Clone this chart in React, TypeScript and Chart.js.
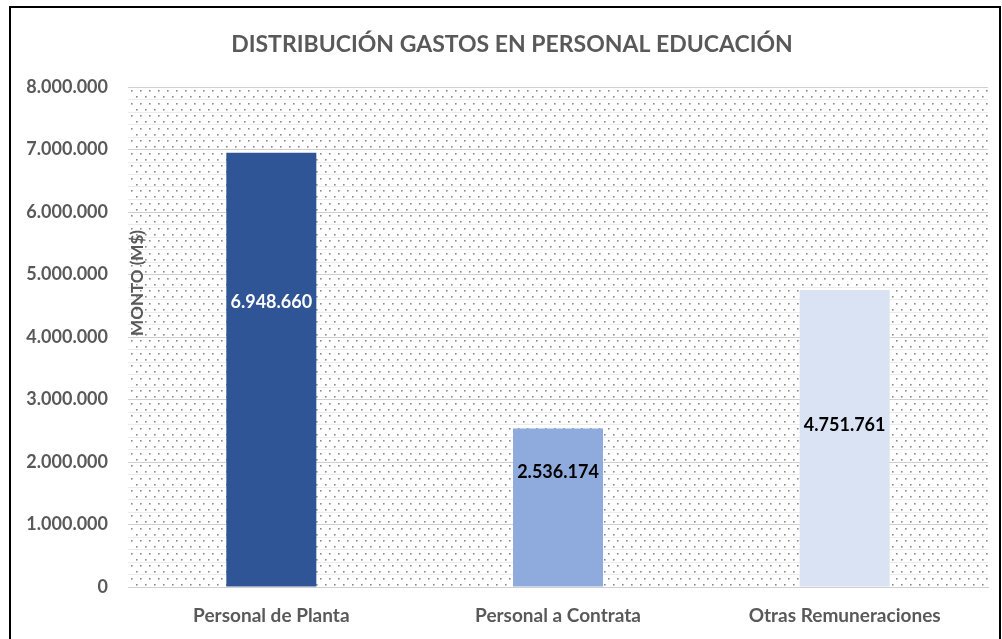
import React, { useEffect, useRef } from "react";
import { Chart, registerables } from "chart.js";

Chart.register(...registerables);

const TITLE = "DISTRIBUCIÓN GASTOS EN PERSONAL EDUCACIÓN";
const Y_TITLE = "MONTO (M$)";
const categories = ["Personal de Planta", "Personal a Contrata", "Otras Remuneraciones"];
const values = [6948660, 2536174, 4751761];
const barColors = ["#2F5597", "#8FAADC", "#DAE3F3"];
const labelColors = ["#FFFFFF", "#000000", "#000000"];
const labelFractions = [0.656, 0.725, 0.545];
const yMax = 8000000;
const yStep = 200000;
const majorStep = 1000000;

const FONT = "Lato, 'Open Sans', sans-serif";
const GRAY = "#595959";

function fmt(v: number): string {
  return Math.round(v).toString().replace(/\B(?=(\d{3})+(?!\d))/g, ".");
}

const decoPlugin = {
  id: "deco",
  beforeDraw(chart: any) {
    const { ctx, chartArea } = chart;
    const { left, right, top, bottom } = chartArea;
    ctx.save();
    ctx.fillStyle = "#ffffff";
    ctx.fillRect(0, 0, chart.width, chart.height);
    ctx.beginPath();
    ctx.rect(left, top, right - left, bottom - top);
    ctx.clip();
    ctx.fillStyle = "#8a8a8a";
    let row = 0;
    for (let y = top + 3; y < bottom; y += 6.25, row++) {
      const off = row % 2 === 0 ? 0 : 4.5;
      for (let x = left + 3 + off; x < right; x += 9) {
        ctx.fillRect(Math.round(x), Math.round(y), 1.6, 1.6);
      }
    }
    ctx.restore();
  },
  afterDraw(chart: any) {
    const { ctx } = chart;
    ctx.save();
    ctx.fillStyle = GRAY;
    ctx.font = `bold 23px ${FONT}`;
    ctx.textAlign = "center";
    ctx.textBaseline = "middle";
    ctx.fillText(TITLE, 512, 45);
    ctx.save();
    ctx.translate(138, 283);
    ctx.rotate(-Math.PI / 2);
    ctx.font = `bold 17px ${FONT}`;
    ctx.fillText(Y_TITLE, 0, 0);
    ctx.restore();
    const meta = chart.getDatasetMeta(0);
    const yScale = chart.scales.y;
    ctx.font = `bold 18px ${FONT}`;
    meta.data.forEach((bar: any, i: number) => {
      ctx.fillStyle = labelColors[i];
      const y = yScale.getPixelForValue(values[i] * labelFractions[i]);
      ctx.fillText(fmt(values[i]), bar.x, y);
    });
    ctx.strokeStyle = "#000000";
    ctx.lineWidth = 2;
    ctx.strokeRect(10, 7, 990, 640);
    ctx.restore();
  },
};

export default function App() {
  const ref = useRef<HTMLCanvasElement>(null);
  useEffect(() => {
    document.body.style.margin = "0";
    const chart = new Chart(ref.current as HTMLCanvasElement, {
      type: "bar",
      data: {
        labels: categories,
        datasets: [
          {
            data: values,
            backgroundColor: barColors,
            barPercentage: 0.314,
            categoryPercentage: 1,
          },
        ],
      },
      options: {
        animation: false,
        responsive: false,
        layout: { padding: { top: 87, right: 14, left: 0, bottom: 0 } },
        plugins: { legend: { display: false }, tooltip: { enabled: false }, title: { display: false } },
        scales: {
          x: {
            grid: { display: false, drawTicks: false },
            border: { display: true, color: "#d0d0d0", width: 1 },
            ticks: { color: GRAY, font: { family: FONT, size: 19, weight: "bold" }, padding: 17 },
            afterFit: (s: any) => { s.height = 52; },
          },
          y: {
            min: 0,
            max: yMax,
            grid: {
              drawTicks: false,
              color: (c: any) => (c.tick && c.tick.value % majorStep === 0 ? "#d0d0d0" : "#ececec"),
            },
            border: { display: false },
            ticks: {
              stepSize: yStep,
              autoSkip: false,
              padding: 20,
              color: GRAY,
              font: { family: FONT, size: 18, weight: "bold" },
              callback: (v: any) => (Number(v) % majorStep === 0 ? fmt(Number(v)) : ""),
            },
            afterFit: (s: any) => { s.width = 128; },
          },
        },
      },
      plugins: [decoPlugin],
    });
    return () => chart.destroy();
  }, []);
  return <canvas ref={ref} width={1002} height={639} style={{ display: "block" }} />;
}
